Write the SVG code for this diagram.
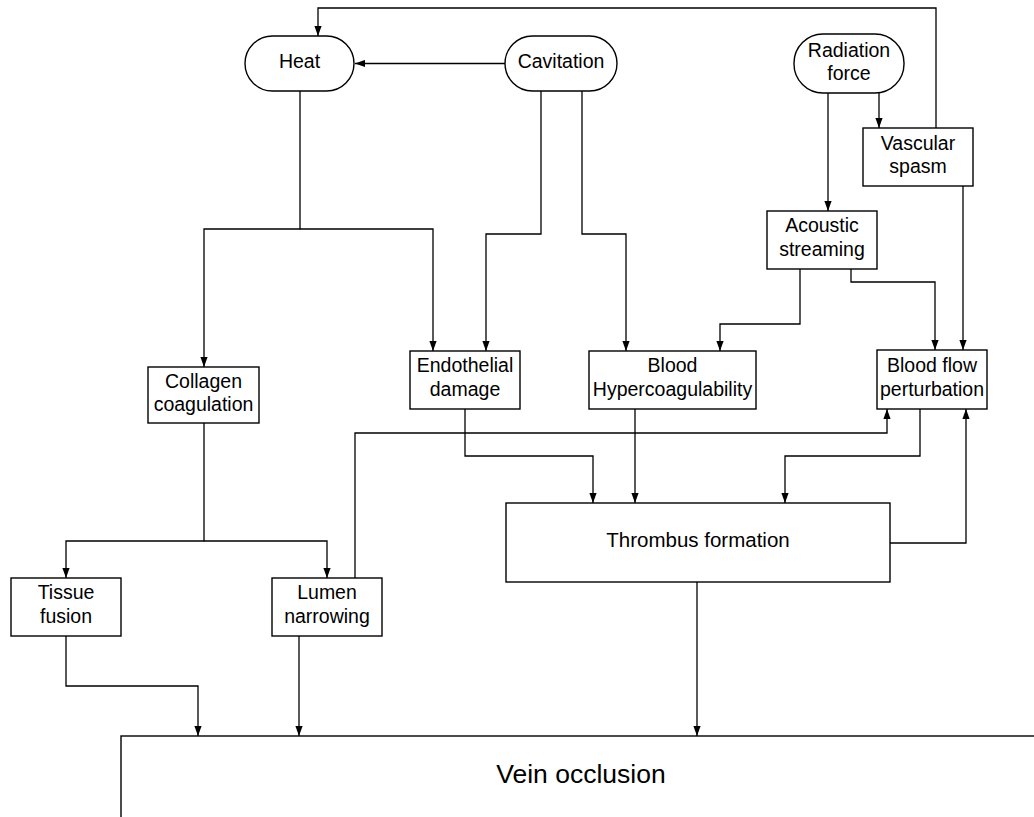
<svg xmlns="http://www.w3.org/2000/svg" width="1034" height="817" viewBox="0 0 1034 817">
<style>
.n{fill:#fff;stroke:#000;stroke-width:1.4}
.t{font-family:"Liberation Sans",Arial,sans-serif;font-size:19.5px;fill:#000;text-anchor:middle}
.c{fill:none;stroke:#000;stroke-width:1.3}
</style>
<defs>
<marker id="a" markerUnits="userSpaceOnUse" markerWidth="10" markerHeight="8" refX="10" refY="4" orient="auto">
<path d="M0,0.4 L10,4 L0,7.6 z" fill="#000"/>
</marker>
</defs>
<rect width="1034" height="817" fill="#fff"/>
<g id="connectors" class="c" marker-end="url(#a)">
<path d="M936,128 V8 H318 V36"/>
<path d="M505,63.5 H355"/>
<path d="M879,93 V128"/>
<path d="M828,93 V211"/>
<path d="M300,91 V229 H204 V367"/>
<path d="M300,229 H433 V351"/>
<path d="M541,91 V234 H486 V351"/>
<path d="M582,91 V234 H626 V351"/>
<path d="M800,269 V324 H720 V351"/>
<path d="M851,269 V282 H935 V350"/>
<path d="M963,186 V350"/>
<path d="M204,423 V541 H66 V578"/>
<path d="M204,541 H327 V578"/>
<path d="M355,578 V433 H887 V409"/>
<path d="M920,409 V456 H785 V503"/>
<path d="M890,543 H966 V409"/>
<path d="M465,409 V456 H593 V503"/>
<path d="M635,409 V503"/>
<path d="M66,636 V686 H198 V736"/>
<path d="M299,636 V736"/>
<path d="M697,582 V736"/>
</g>
<g id="heat"><rect class="n" x="245" y="36" width="109" height="55" rx="27.5"/><text class="t" x="299.5" y="68">Heat</text></g>
<g id="cavitation"><rect class="n" x="505" y="36" width="112" height="55" rx="27.5"/><text class="t" x="561" y="68">Cavitation</text></g>
<g id="radiation"><rect class="n" x="794" y="34" width="110" height="59" rx="29"/><text class="t" x="849" y="57">Radiation</text><text class="t" x="849" y="80">force</text></g>
<g id="vascular"><rect class="n" x="863" y="128" width="110" height="58"/><text class="t" x="918" y="150">Vascular</text><text class="t" x="918" y="173">spasm</text></g>
<g id="acoustic"><rect class="n" x="767" y="211" width="110" height="58"/><text class="t" x="822" y="232">Acoustic</text><text class="t" x="822" y="256">streaming</text></g>
<g id="endothelial"><rect class="n" x="410" y="351" width="110" height="58"/><text class="t" x="465" y="372">Endothelial</text><text class="t" x="465" y="396">damage</text></g>
<g id="hyper"><rect class="n" x="589" y="351" width="167" height="58"/><text class="t" x="672.5" y="372">Blood</text><text class="t" x="672.5" y="396">Hypercoagulability</text></g>
<g id="bloodflow"><rect class="n" x="877" y="350" width="110" height="59"/><text class="t" x="932" y="372">Blood flow</text><text class="t" x="932" y="396">perturbation</text></g>
<g id="collagen"><rect class="n" x="148" y="367" width="111" height="56"/><text class="t" x="203.5" y="388">Collagen</text><text class="t" x="203.5" y="411">coagulation</text></g>
<g id="thrombus"><rect class="n" x="506" y="503" width="384" height="79"/><text class="t" x="698" y="547" style="font-size:20.5px">Thrombus formation</text></g>
<g id="tissue"><rect class="n" x="11" y="578" width="110" height="58"/><text class="t" x="66" y="599">Tissue</text><text class="t" x="66" y="623">fusion</text></g>
<g id="lumen"><rect class="n" x="272" y="578" width="110" height="58"/><text class="t" x="327" y="599">Lumen</text><text class="t" x="327" y="623">narrowing</text></g>
<g id="vein"><rect class="n" x="121" y="736" width="1000" height="200"/><text class="t" x="581" y="783" style="font-size:26.5px">Vein occlusion</text></g>
</svg>
